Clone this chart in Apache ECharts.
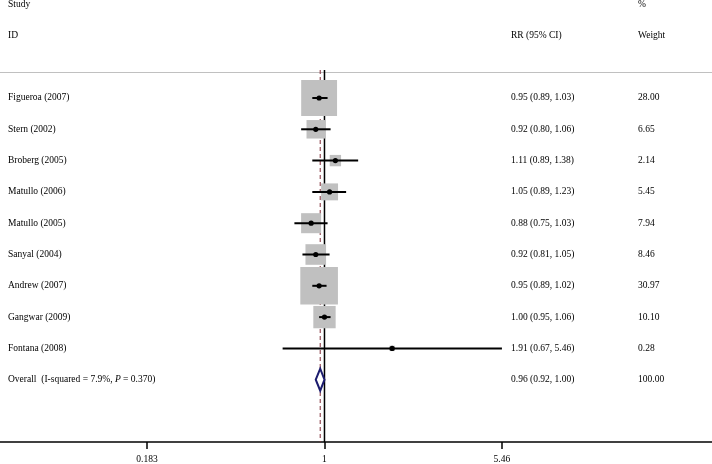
<!DOCTYPE html>
<html>
<head>
    <meta charset="utf-8">
    <title>forest</title>
    <style>
        html, body { margin: 0; padding: 0; background: #fff; }
        #chart { width: 712px; height: 464px; }
    </style>
    <script src="https://cdn.jsdelivr.net/npm/echarts@6/dist/echarts.min.js"></script>
</head>
<body>
<div id="chart"></div>
<script>
    // data
    const studies = ['Figueroa (2007)', 'Stern (2002)', 'Broberg (2005)', 'Matullo (2006)', 'Matullo (2005)',
        'Sanyal (2004)', 'Andrew (2007)', 'Gangwar (2009)', 'Fontana (2008)'];
    const rr = [0.95, 0.92, 1.11, 1.05, 0.88, 0.92, 0.95, 1.00, 1.91];
    const lower = [0.89, 0.80, 0.89, 0.89, 0.75, 0.81, 0.89, 0.95, 0.67];
    const upper = [1.03, 1.06, 1.38, 1.23, 1.03, 1.05, 1.02, 1.06, 5.46];
    const weights = ['28.00', '6.65', '2.14', '5.45', '7.94', '8.46', '30.97', '10.10', '0.28'];

    const overallRR = 0.96, overallLo = 0.92, overallHi = 1.00, overallWeight = '100.00';
    const overallText = '{n|Overall  (I-squared = 7.9%, }{i|P}{n| = 0.370)}';

    const tickValues = [0.183, 1, 5.46];
    const tickLabels = ['0.183', '1', '5.46'];

    const FONT = '"Liberation Serif", "Times New Roman", serif';
    const FS = 9.5;
    const colName = 8, colRR = 511, colW = 638;

    const fmt = (v) => v.toFixed(2);
    const ciText = (e, l, h) => fmt(e) + ' (' + fmt(l) + ', ' + fmt(h) + ')';

    function txt(x, y, s) {
        return {
            type: 'text', x: x, y: y,
            style: {text: s, fill: '#000', fontSize: FS, fontFamily: FONT, align: 'left', verticalAlign: 'middle'}
        };
    }

    const studyData = studies.map((s, i) => [Math.log(rr[i]), i, Math.log(lower[i]), Math.log(upper[i]), parseFloat(weights[i])]);

    // null line (RR = 1) and the dashed overall line
    function renderRefs(params, api) {
        const top = params.coordSys.y, bottom = params.coordSys.y + params.coordSys.height;
        const x1 = api.coord([0, 0])[0];
        const x2 = api.coord([Math.log(overallRR), 0])[0];
        return {
            type: 'group',
            children: [
                {type: 'line', shape: {x1: x2, y1: top - 2, x2: x2, y2: bottom}, style: {stroke: '#7f2a35', lineWidth: 1, lineDash: [4, 3]}},
                {type: 'line', shape: {x1: x1, y1: top - 2, x2: x1, y2: bottom}, style: {stroke: '#000', lineWidth: 1.5}}
            ]
        };
    }

    function renderStudy(params, api) {
        const i = params.dataIndex;
        const c = api.coord([api.value(0), api.value(1)]);
        const lo = api.coord([api.value(2), api.value(1)]);
        const hi = api.coord([api.value(3), api.value(1)]);
        const s = 2 + 6.4 * Math.sqrt(api.value(4));
        return {
            type: 'group',
            children: [
                {type: 'rect', shape: {x: c[0] - s / 2, y: c[1] - s / 2, width: s, height: s}, style: {fill: '#c0c0c0'}},
                {type: 'line', shape: {x1: lo[0], y1: lo[1], x2: hi[0], y2: hi[1]}, style: {stroke: '#000', lineWidth: 2}},
                {type: 'circle', shape: {cx: c[0], cy: c[1], r: 2.6}, style: {fill: '#000'}},
                txt(colName, c[1], studies[i]),
                txt(colRR, c[1], ciText(rr[i], lower[i], upper[i])),
                txt(colW, c[1], weights[i])
            ]
        };
    }

    function renderOverall(params, api) {
        const c = api.coord([api.value(0), api.value(1)]);
        const lo = api.coord([api.value(2), api.value(1)]);
        const hi = api.coord([api.value(3), api.value(1)]);
        const h = 11;
        return {
            type: 'group',
            children: [
                {
                    type: 'polygon',
                    shape: {points: [[lo[0], c[1]], [c[0], c[1] - h], [hi[0], c[1]], [c[0], c[1] + h]]},
                    style: {fill: '#fff', stroke: '#1c1c6e', lineWidth: 2}
                },
                {
                    type: 'text', x: colName, y: c[1],
                    style: {
                        text: overallText, verticalAlign: 'middle', align: 'left',
                        rich: {
                            n: {fontSize: FS, fontFamily: FONT, color: '#000'},
                            i: {fontSize: FS, fontFamily: FONT, color: '#000', fontStyle: 'italic'}
                        }
                    }
                },
                txt(colRR, c[1], ciText(overallRR, overallLo, overallHi)),
                txt(colW, c[1], overallWeight)
            ]
        };
    }

    const chart = echarts.init(document.getElementById('chart'));
    chart.setOption({
        animation: false,
        grid: {left: 0, right: 0, top: 72, bottom: 22},
        xAxis: {
            type: 'value',
            min: -3.104,
            max: 3.707,
            splitLine: {show: false},
            axisLine: {onZero: false, lineStyle: {color: '#000', width: 1.5}},
            axisTick: {customValues: tickValues.map(Math.log), length: 7, lineStyle: {color: '#000', width: 1.5}},
            axisLabel: {
                customValues: tickValues.map(Math.log),
                formatter: (v) => tickLabels[tickValues.findIndex(t => Math.abs(Math.log(t) - v) < 1e-6)],
                color: '#000', fontSize: FS, fontFamily: FONT, margin: 12
            }
        },
        yAxis: {
            type: 'value', inverse: true, min: -0.83, max: 10.99, show: false
        },
        graphic: [
            {type: 'line', shape: {x1: 0, y1: 72.5, x2: 712, y2: 72.5}, style: {stroke: '#c0c0c0', lineWidth: 1}},
            txt(colName, 4, 'Study'),
            txt(colName, 35, 'ID'),
            txt(colRR, 35, 'RR (95% CI)'),
            txt(colW, 4, '%'),
            txt(colW, 35, 'Weight')
        ],
        series: [
            {
                type: 'custom', z: 1, silent: true,
                renderItem: renderRefs,
                data: [[0, 0]]
            },
            {
                type: 'custom', z: 3, silent: true,
                renderItem: renderStudy,
                encode: {x: [0, 2, 3], y: 1},
                data: studyData
            },
            {
                type: 'custom', z: 3, silent: true,
                renderItem: renderOverall,
                encode: {x: [0, 2, 3], y: 1},
                data: [[Math.log(overallRR), studies.length, Math.log(overallLo), Math.log(overallHi)]]
            }
        ]
    });
</script>
</body>
</html>
